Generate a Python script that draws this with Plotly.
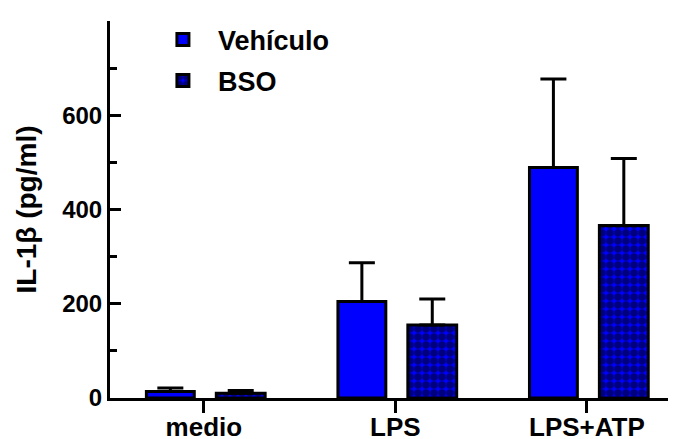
import plotly.graph_objects as go

categories = ["medio", "LPS", "LPS+ATP"]
vehiculo_mean = [14, 205, 489]
vehiculo_err = [7, 82, 188]
bso_mean = [10, 155, 366]
bso_err = [6, 55, 142]
y_ticks = [0, 200, 400, 600, 800]

xpos = list(range(len(categories)))
FONT = "Liberation Sans, Arial, sans-serif"

fig = go.Figure()
fig.add_trace(go.Bar(
    x=xpos, y=vehiculo_mean, name="Vehículo", legendgroup="a",
    offset=-0.30, width=0.25,
    marker=dict(color="#0000ff", line=dict(color="black", width=3)),
    error_y=dict(type="data", array=vehiculo_err, arrayminus=[0]*3, symmetric=False,
                 color="black", thickness=3, width=13),
))
fig.add_trace(go.Bar(
    x=xpos, y=bso_mean, name="BSO", legendgroup="b",
    offset=0.065, width=0.255,
    marker=dict(color="#0000ff", line=dict(color="black", width=3),
                pattern=dict(shape=".", fgcolor="black", bgcolor="#0000ff", size=8, solidity=0.7)),
    error_y=dict(type="data", array=bso_err, arrayminus=[0]*3, symmetric=False,
                 color="black", thickness=3, width=13),
))

fig.update_layout(
    width=676, height=439,
    margin=dict(l=102, r=8, t=12, b=49),
    paper_bgcolor="white", plot_bgcolor="white",
    barmode="overlay",
    font=dict(family=FONT, color="black", size=20),
    legend=dict(x=0.067, y=1.012, xanchor="left", yanchor="top",
                font=dict(family=FONT, size=27, color="black", weight="bold"),
                bgcolor="rgba(0,0,0,0)", itemwidth=60, tracegroupgap=3,
                traceorder="grouped"),
    showlegend=True,
)
fig.update_xaxes(
    range=[-0.49, 2.465], tickmode="array", tickvals=xpos, ticktext=categories,
    showline=True, linecolor="black", linewidth=3, ticks="",
    showgrid=False, zeroline=False, automargin=False, ticklabelstandoff=4,
    minor=dict(tickvals=xpos, ticks="outside", ticklen=12, tickwidth=3, tickcolor="black", showgrid=False),
    tickfont=dict(family=FONT, size=26, color="black", weight="bold"),
)
fig.update_yaxes(
    range=[0, 800], tickmode="array", tickvals=y_ticks,
    showline=True, linecolor="black", linewidth=3, ticks="inside", ticklen=11, tickwidth=3,
    tickcolor="black", showgrid=False, zeroline=False, automargin=False,
    minor=dict(dtick=100, ticks="inside", ticklen=7, tickwidth=3, tickcolor="black", showgrid=False),
    tickfont=dict(family=FONT, size=24, color="black", weight="bold"),
    title=dict(text="IL-1β (pg/ml)", font=dict(family=FONT, size=28, color="black", weight="bold"), standoff=18),
)

fig.write_html("out.html")
